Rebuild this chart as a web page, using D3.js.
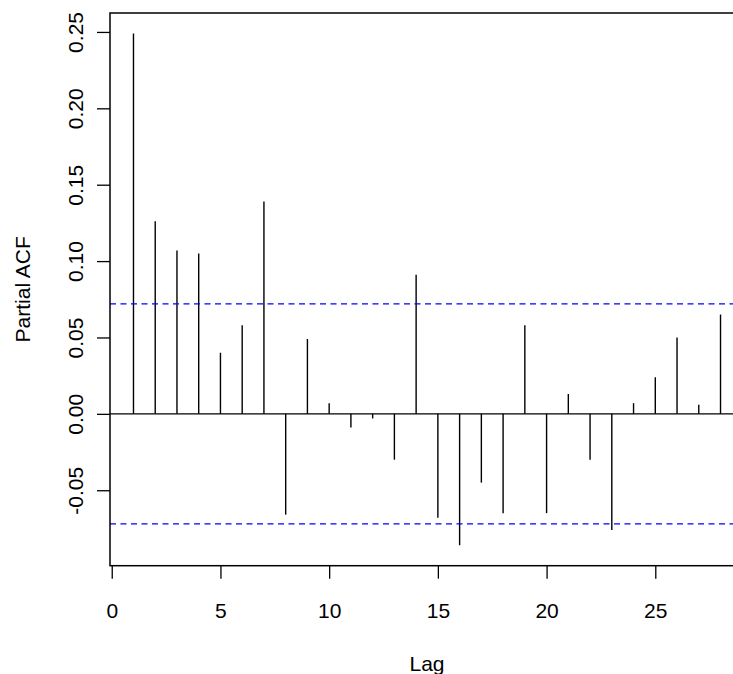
<!DOCTYPE html>
<html>
<head>
<meta charset="utf-8">
<script src="https://cdn.jsdelivr.net/npm/d3@7"></script>
<style>
  html, body { margin: 0; padding: 0; background: #ffffff; overflow: hidden; }
  text { font-family: "Liberation Sans", Arial, sans-serif; fill: #000; }
</style>
</head>
<body>
<script>
// PACF values, lags 1..28
const lags = d3.range(1, 29);
const pacf = [0.249, 0.126, 0.107, 0.105, 0.040, 0.058, 0.139, -0.066,
              0.049, 0.007, -0.009, -0.003, -0.030, 0.091, -0.068, -0.086,
              -0.045, -0.065, 0.058, -0.065, 0.013, -0.030, -0.076, 0.007,
              0.024, 0.050, 0.006, 0.065];
const clim = 0.072;
const xTicks = [0, 5, 10, 15, 20, 25];
const yTicks = [-0.05, 0, 0.05, 0.10, 0.15, 0.20, 0.25];

const W = 733, H = 674;
// plot box (right side runs past the window, as in the picture)
const box = {left: 110, top: 13, right: 744, bottom: 565.7};

// R-style 4% range extension
function extend(lo, hi) {
    const d = (hi - lo) * 0.04;
    return [lo - d, hi + d];
}

const x = d3.scaleLinear()
    .domain(extend(d3.min(lags), d3.max(lags)))
    .range([box.left, box.right]);

const ylim = extend(Math.min(d3.min(pacf), -clim), Math.max(d3.max(pacf), clim));
const y = d3.scaleLinear()
    .domain(ylim)
    .range([box.bottom, box.top]);

const svg = d3.select("body").append("svg")
    .attr("width", W)
    .attr("height", H);

// zero line
svg.append("line")
    .attr("x1", box.left).attr("x2", box.right)
    .attr("y1", y(0)).attr("y2", y(0))
    .attr("stroke", "#000").attr("stroke-width", 1.3);

// stems
svg.append("g").selectAll("line")
    .data(lags)
  .join("line")
    .attr("x1", (d) => x(d)).attr("x2", (d) => x(d))
    .attr("y1", y(0))
    .attr("y2", (d, i) => y(pacf[i]))
    .attr("stroke", "#000")
    .attr("stroke-width", 1.4);

// confidence bounds
svg.append("g").selectAll("line")
    .data([clim, -clim])
  .join("line")
    .attr("x1", box.left).attr("x2", box.right)
    .attr("y1", (d) => y(d)).attr("y2", (d) => y(d))
    .attr("stroke", "#0000ff")
    .attr("stroke-width", 1.4)
    .attr("stroke-dasharray", "6,4.5");

// box
svg.append("rect")
    .attr("x", box.left).attr("y", box.top)
    .attr("width", box.right - box.left)
    .attr("height", box.bottom - box.top)
    .attr("fill", "none")
    .attr("stroke", "#000")
    .attr("stroke-width", 1.5);

// x axis
const xAxis = svg.append("g")
    .attr("transform", "translate(0," + box.bottom + ")")
    .call(d3.axisBottom(x).tickValues(xTicks).tickSize(13).tickSizeOuter(0).tickPadding(0));
xAxis.select(".domain").remove();
xAxis.selectAll("line").attr("stroke", "#000").attr("stroke-width", 1.3);
xAxis.selectAll("text")
    .attr("font-size", 21)
    .attr("font-family", "Liberation Sans, Arial, sans-serif")
    .attr("dy", null)
    .attr("y", 618 - box.bottom);

// y axis
const yAxis = svg.append("g")
    .attr("transform", "translate(" + box.left + ",0)")
    .call(d3.axisLeft(y).tickValues(yTicks).tickSize(13).tickSizeOuter(0)
        .tickFormat((d) => d3.format(".2f")(d).replace("\u2212", "-")));
yAxis.select(".domain").remove();
yAxis.selectAll("line").attr("stroke", "#000").attr("stroke-width", 1.3);
yAxis.selectAll("text")
    .attr("font-size", 21)
    .attr("font-family", "Liberation Sans, Arial, sans-serif")
    .attr("x", null).attr("dy", null)
    .attr("text-anchor", "middle")
    .attr("transform", "translate(" + (83 - box.left) + ",0) rotate(-90)");

// axis titles
svg.append("text")
    .attr("x", (box.left + box.right) / 2)
    .attr("y", 671)
    .attr("text-anchor", "middle")
    .attr("font-size", 21)
    .text("Lag");

svg.append("text")
    .attr("transform", "translate(30," + (box.top + box.bottom) / 2 + ") rotate(-90)")
    .attr("text-anchor", "middle")
    .attr("font-size", 21)
    .text("Partial ACF");
</script>
</body>
</html>
